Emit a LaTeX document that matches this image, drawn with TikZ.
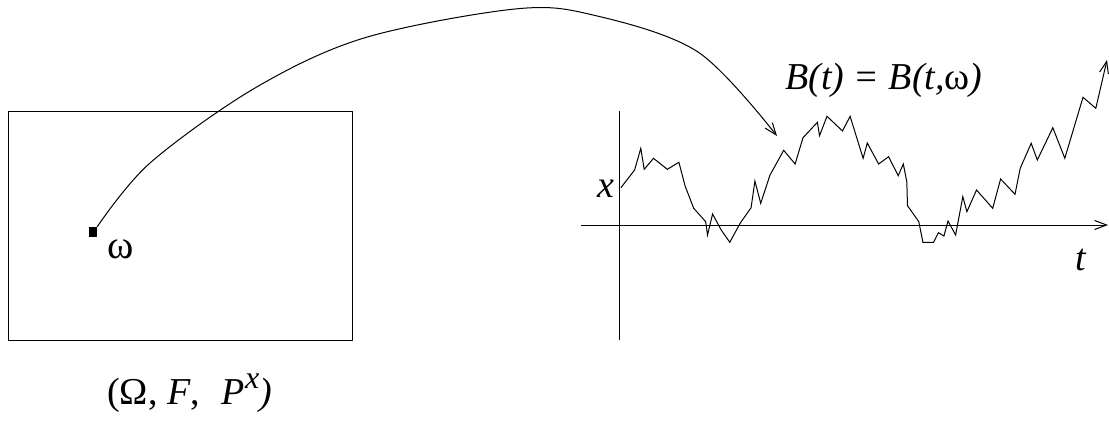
\documentclass[tikz,border=0pt]{standalone}
\usepackage{fontspec}
\setmainfont{Liberation Serif}
\usetikzlibrary{arrows.meta}
\begin{document}
\begin{tikzpicture}[x=1pt,y=-1pt,
  lbl/.style={inner sep=0pt, font=\fontsize{38}{40}\selectfont},
  ln/.style={line width=1pt},
  arr/.style={ln, -{Straight Barb[length=12pt,width=9pt]}}]
\useasboundingbox (0,0) rectangle (1109,428);
% sample space box
\node[draw, line width=1.3pt, minimum width=344pt, minimum height=229pt, inner sep=0pt, anchor=north west] (space) at (8,111) {};
\node[fill, minimum width=8pt, minimum height=10pt, inner sep=0pt] (w) at (93,232) {};
\node[lbl, anchor=base west] (wl) at (107,258) {\fontsize{40}{40}\selectfont ω};
\node[lbl, anchor=base west] (sp) at (107,404) {(Ω, \textit{F},\hspace{22pt}\textit{P}\raisebox{16pt}{\fontsize{32}{32}\selectfont\textit{x}}\textit{)}};
% axes
\coordinate (hl) at (581,225);
\coordinate (hr) at (1108,225);
\coordinate (vt) at (619,111);
\coordinate (vb) at (619,340);
\draw[arr] (hl) -- (hr);
\draw[ln] (vt) -- (vb);
\node[lbl, anchor=base west] (xl) at (597,197) {\textit{x}};
\node[lbl, anchor=base west] (tlab) at (1075,270) {\textit{t}};
\node[lbl, anchor=base west] (bl) at (785,90) {\textit{B(t) = B(t,}ω\textit{)}};
% mapping arrow
\coordinate (tip) at (777,136);
\draw[arr] plot[smooth, tension=0.55] coordinates {(w.north east) (150,163) (255,88) (364,38) (515,9) (593,15) (698,52) (tip)};
% Brownian path
\draw[arr, line join=miter] (620.9,187.7) -- (634.6,170) -- (640.8,148.3) -- (644.2,169.3) -- (653.5,158.3) -- (667.3,169.3) -- (678.9,162.3) -- (685.1,186) -- (693.7,208.3) -- (705.7,221.7) -- (707.5,235) -- (712.6,214) -- (721.2,230) -- (729.8,242.3) -- (740.1,223.3) -- (751.1,207.7) -- (754.9,181) -- (760.7,203.3) -- (770,175) -- (783.7,150.3) -- (795.1,164) -- (803,137.7) -- (817.4,122.3) -- (819.5,135.7) -- (827,116.3) -- (842.5,131) -- (850.1,116.3) -- (863.1,158.3) -- (867.3,143) -- (878.6,164) -- (888.6,156.7) -- (898.2,175.7) -- (903.3,164) -- (906.8,181.7) -- (907.5,205.7) -- (918.8,221.7) -- (922.9,242.3) -- (933.6,242.3) -- (938.4,232.7) -- (943.9,236) -- (948,221) -- (955.6,235) -- (962.8,196.7) -- (966.9,211.7) -- (976.5,190) -- (992.7,208.3) -- (1000.6,179) -- (1015,194.3) -- (1020.2,168.3) -- (1031.2,143.3) -- (1037.3,160) -- (1052.8,127.7) -- (1064.8,158.3) -- (1083,97.3) -- (1095.8,108.3) -- (1107,60);
\end{tikzpicture}
\end{document}
